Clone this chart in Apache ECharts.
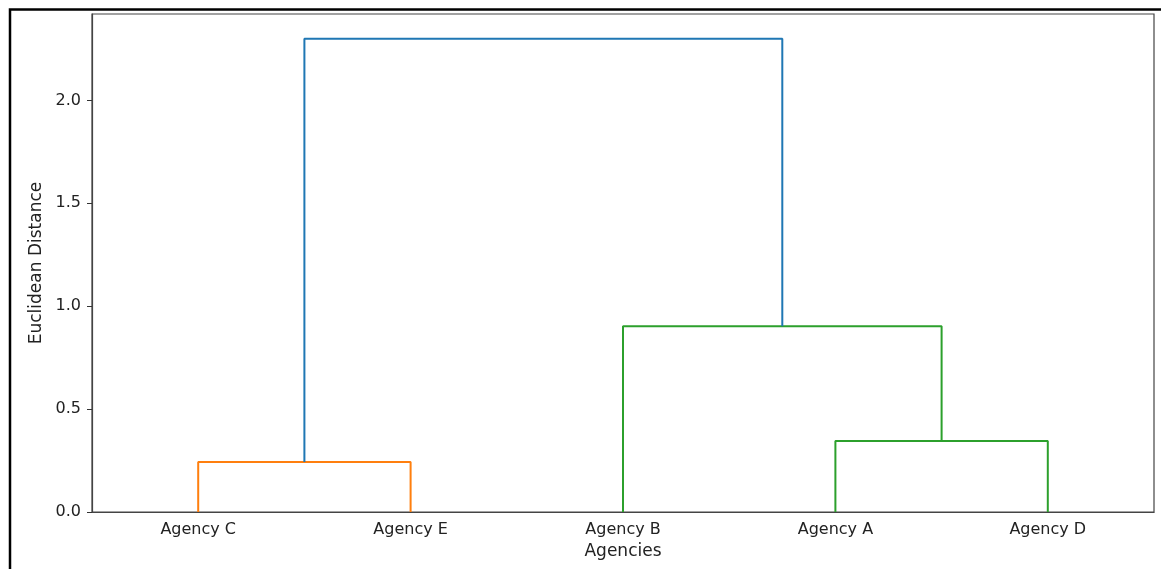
<!DOCTYPE html>
<html>
<head>
<meta charset="utf-8">
<script src="https://cdn.jsdelivr.net/npm/echarts@6/dist/echarts.min.js"></script>
<style>
  html, body { margin: 0; padding: 0; background: #fff; }
  #main { width: 1161px; height: 569px; }
</style>
</head>
<body>
<div id="main"></div>
<script>
// leaves in dendrogram order
var leaves = ['Agency C', 'Agency E', 'Agency B', 'Agency A', 'Agency D'];
// link x positions (scipy style: leaves at 5, 15, 25 ...)
var icoord = [
    [5, 5, 15, 15],
    [35, 35, 45, 45],
    [25, 25, 40, 40],
    [10, 10, 32.5, 32.5]
];
// link heights
var dcoord = [
    [0, 0.243, 0.243, 0],
    [0, 0.345, 0.345, 0],
    [0, 0.903, 0.903, 0.345],
    [0.243, 2.30, 2.30, 0.903]
];
var linkColors = ['#ff7f0e', '#2ca02c', '#2ca02c', '#1f77b4'];
var yTicks = [0, 0.5, 1.0, 1.5, 2.0];

var myChart = echarts.init(document.getElementById('main'));

var series = [];
for (var i = 0; i < icoord.length; i++) {
    var pts = [];
    for (var k = 0; k < 4; k++) pts.push([icoord[i][k], dcoord[i][k]]);
    series.push({
        type: 'line',
        xAxisIndex: 0,
        data: pts,
        symbol: 'none',
        silent: true,
        lineStyle: { color: linkColors[i], width: 2 },
        z: 3
    });
}

var font = 'DejaVu Sans';

var option = {
    animation: false,
    backgroundColor: '#fff',
    grid: {
        left: 92, top: 14, right: 7, bottom: 57,
        show: true, borderColor: '#444', borderWidth: 1.2, backgroundColor: 'transparent'
    },
    xAxis: [{
        type: 'value', min: 0, max: 50, show: false
    }, {
        type: 'category',
        data: leaves,
        boundaryGap: true,
        position: 'bottom',
        name: 'Agencies',
        nameLocation: 'middle',
        nameGap: 28,
        nameTextStyle: { fontFamily: font, fontSize: 17, color: '#222' },
        axisLine: { lineStyle: { color: '#444', width: 1.2 } },
        axisTick: { show: false },
        axisLabel: { fontFamily: font, fontSize: 16, color: '#222', margin: 10 },
        splitLine: { show: false }
    }],
    yAxis: {
        type: 'value',
        min: 0,
        max: 2.42,
        name: 'Euclidean Distance',
        nameLocation: 'middle',
        nameGap: 47,
        nameTextStyle: { fontFamily: font, fontSize: 17, color: '#222' },
        axisLine: { show: true, lineStyle: { color: '#444', width: 1.2 } },
        axisTick: { show: true, length: 5, customValues: yTicks, lineStyle: { color: '#333' } },
        axisLabel: {
            customValues: yTicks,
            fontFamily: font, fontSize: 16, color: '#222', margin: 11,
            formatter: function (v) { return v.toFixed(1); }
        },
        splitLine: { show: false }
    },
    graphic: [{
        type: 'polyline',
        shape: { points: [[10, 569], [10, 9.5], [1161, 9.5]] },
        style: { stroke: '#000', lineWidth: 2.5, fill: null },
        silent: true
    }],
    series: series
};

myChart.setOption(option);
</script>
</body>
</html>
